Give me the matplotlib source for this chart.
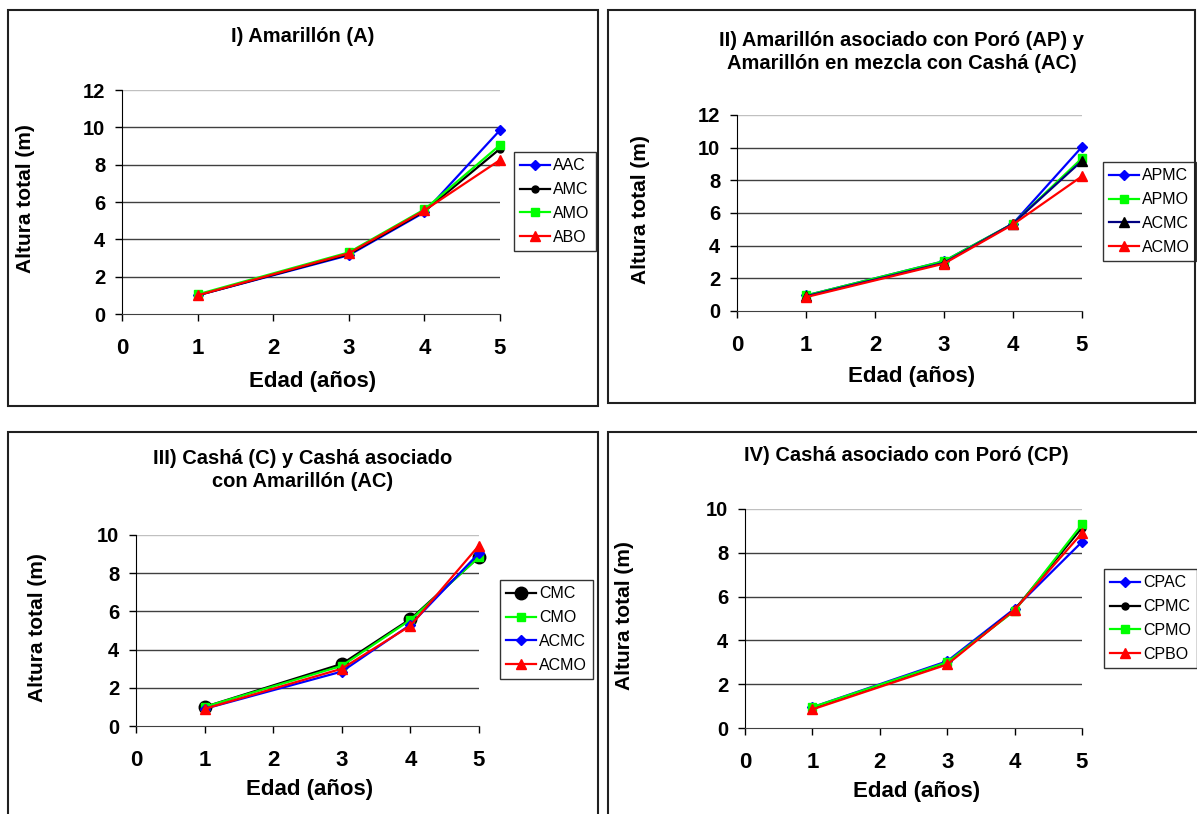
import matplotlib
matplotlib.use("Agg")
import matplotlib.pyplot as plt
from matplotlib.patches import Rectangle

plt.rcParams['font.family'] = ['Liberation Sans', 'DejaVu Sans']

# ---------------- data ----------------
edad = [1, 3, 4, 5]
x_ticks = [0, 1, 2, 3, 4, 5]

titulo_1 = "I) Amarillón (A)"
titulo_2 = "II) Amarillón asociado con Poró (AP) y\nAmarillón en mezcla con Cashá (AC)"
titulo_3 = "III) Cashá (C) y Cashá asociado\ncon Amarillón (AC)"
titulo_4 = "IV) Cashá asociado con Poró (CP)"
ylabel = "Altura total (m)"
xlabel = "Edad (años)"

# Panel I
p1_names = ["AAC", "AMC", "AMO", "ABO"]
p1_AAC = [1.00, 3.15, 5.45, 9.85]
p1_AMC = [1.00, 3.20, 5.50, 8.85]
p1_AMO = [1.05, 3.30, 5.60, 9.05]
p1_ABO = [1.00, 3.25, 5.55, 8.25]

# Panel II
p2_names = ["APMC", "APMO", "ACMC", "ACMO"]
p2_APMC = [0.95, 3.05, 5.35, 10.05]
p2_APMO = [0.95, 3.05, 5.35, 9.35]
p2_ACMC = [0.90, 2.95, 5.35, 9.20]
p2_ACMO = [0.85, 2.90, 5.30, 8.25]

# Panel III
p3_names = ["CMC", "CMO", "ACMC", "ACMO"]
p3_CMC = [1.00, 3.25, 5.60, 8.85]
p3_CMO = [1.00, 3.15, 5.55, 8.85]
p3_ACMC = [0.90, 2.85, 5.30, 9.05]
p3_ACMO = [0.90, 3.00, 5.25, 9.45]

# Panel IV
p4_names = ["CPAC", "CPMC", "CPMO", "CPBO"]
p4_CPAC = [0.95, 3.05, 5.45, 8.50]
p4_CPMC = [0.90, 2.95, 5.40, 9.15]
p4_CPMO = [0.95, 3.00, 5.35, 9.30]
p4_CPBO = [0.85, 2.90, 5.40, 8.90]

# ---------------- styles ----------------
BLUE = dict(color="#0000FF", marker="D", ms=5, mfc="#0000FF", mec="#0000FF")
BLACK = dict(color="#000000", marker="o", ms=5, mfc="#000000", mec="#000000")
GREEN = dict(color="#00FF00", marker="s", ms=6, mfc="#00FF00", mec="#00FF00")
RED = dict(color="#FF0000", marker="^", ms=7, mfc="#FF0000", mec="#FF0000")
NAVY = dict(color="#000080", marker="^", ms=7, mfc="#000000", mec="#000000")
BIGBLACK = dict(color="#000000", marker="o", ms=9, mfc="#000000", mec="#000000")

W, H = 1197, 814
fig = plt.figure(figsize=(W / 100, H / 100), dpi=100)
fig.patch.set_facecolor("white")


def fx(px):
    return px / W


def fy(py):
    return 1 - py / H


def panel(box, axpx, ymax, ystep, title, title_y, series, names, leg_px,
          ylab_x, xlab_xy):
    bx0, by0, bx1, by1 = box
    fig.patches.append(Rectangle((fx(bx0), fy(by1)), fx(bx1 - bx0), (by1 - by0) / H,
                                 transform=fig.transFigure, fill=False,
                                 edgecolor="#202020", lw=1.5))
    x0, ytop, x1, ybot = axpx
    ax = fig.add_axes([fx(x0), fy(ybot), fx(x1 - x0), (ybot - ytop) / H])
    ax.set_xlim(0, 5)
    ax.set_ylim(0, ymax)
    yt = list(range(0, ymax + 1, ystep))
    for v in yt[1:]:
        c = "#c0c0c0" if v == ymax else "#404040"
        ax.axhline(v, color=c, lw=1, zorder=1)
    handles = []
    for (vals, st), nm in zip(series, names):
        h, = ax.plot(edad, vals, lw=1.6, label=nm, zorder=3, clip_on=False, **st)
        handles.append(h)
    ax.set_xticks(x_ticks)
    ax.set_yticks(yt)
    ax.tick_params(axis="both", direction="out", length=5, width=1, color="black")
    ax.tick_params(axis="y", pad=7, labelsize=14.5)
    ax.tick_params(axis="x", pad=12, labelsize=16)
    for lab in ax.get_xticklabels() + ax.get_yticklabels():
        lab.set_fontweight("bold")
    for s in ("top", "right"):
        ax.spines[s].set_visible(False)
    ax.spines["left"].set_color("black")
    ax.spines["bottom"].set_color("#404040")
    ax.set_facecolor("white")
    cx = (bx0 + bx1) / 2
    fig.text(fx(cx), fy(title_y), title, ha="center", va="center", fontsize=14.5,
             fontweight="bold", linespacing=1.3)
    fig.text(fx(ylab_x), fy((ytop + ybot) / 2 - 3), ylabel, rotation=90, ha="center",
             va="center", fontsize=15, fontweight="bold")
    fig.text(fx(xlab_xy[0]), fy(xlab_xy[1]), xlabel, ha="center", va="center",
             fontsize=16, fontweight="bold")
    lx, ly = leg_px
    leg = ax.legend(handles=handles, loc="upper left",
                    bbox_to_anchor=(fx(lx), fy(ly)),
                    bbox_transform=fig.transFigure, fontsize=11.5, frameon=True,
                    fancybox=False, handlelength=1.85, handletextpad=0.2,
                    borderpad=0.4, labelspacing=0.55, borderaxespad=0)
    leg.get_frame().set_edgecolor("black")
    leg.get_frame().set_linewidth(1)
    return ax


panel((8, 10, 598, 406), (122, 90, 500, 314), 12, 2, titulo_1, 37,
      [(p1_AAC, BLUE), (p1_AMC, BLACK), (p1_AMO, GREEN), (p1_ABO, RED)],
      p1_names, (514, 152), 26, (313, 381))

panel((608, 10, 1195, 403), (737, 115, 1082, 311), 12, 2, titulo_2, 52,
      [(p2_APMC, BLUE), (p2_APMO, GREEN), (p2_ACMC, NAVY), (p2_ACMO, RED)],
      p2_names, (1103, 162), 641, (912, 376))

panel((8, 432, 598, 830), (136, 535, 479, 726), 10, 2, titulo_3, 470,
      [(p3_CMC, BIGBLACK), (p3_CMO, GREEN), (p3_ACMC, BLUE), (p3_ACMO, RED)],
      p3_names, (500, 580), 38, (310, 789))

panel((608, 432, 1205, 830), (745, 509, 1082, 728), 10, 2, titulo_4, 455,
      [(p4_CPAC, BLUE), (p4_CPMC, BLACK), (p4_CPMO, GREEN), (p4_CPBO, RED)],
      p4_names, (1104, 569), 625, (917, 792))

fig.savefig("out.png", dpi=100, facecolor="white")
